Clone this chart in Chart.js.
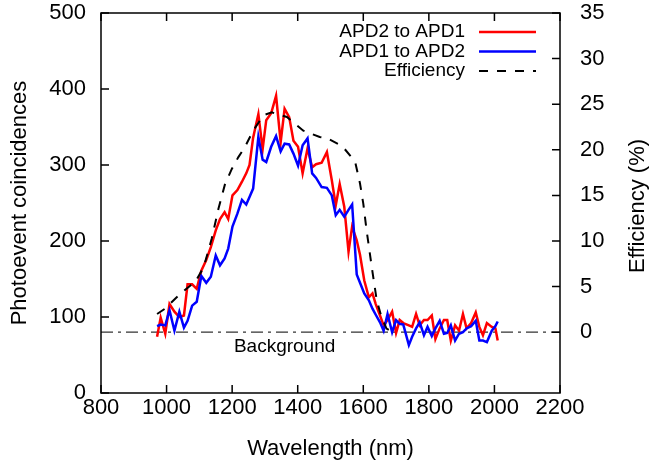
<!DOCTYPE html>
<html>
<head>
<meta charset="utf-8">
<script src="https://cdn.jsdelivr.net/npm/chart.js@4.4.0/dist/chart.umd.min.js"></script>
<style>
  html, body { margin: 0; padding: 0; background: #fff; }
</style>
</head>
<body>
<canvas id="chart_photoevents" width="652" height="466"></canvas>
<script>
// wavelength (nm) of each scan step, shared by both coincidence curves
var wavelengths = [971, 982, 996, 1009, 1024, 1039, 1053, 1064, 1078, 1092,
  1106, 1121, 1135, 1150, 1163, 1177, 1188, 1201, 1216, 1230,
  1243, 1253, 1264, 1280, 1293, 1304, 1319, 1334, 1348, 1360,
  1374, 1387, 1401, 1415, 1430, 1444, 1456, 1473, 1489, 1504,
  1516, 1528, 1542, 1555, 1566, 1580, 1590, 1603, 1617, 1628,
  1638, 1651, 1662, 1674, 1688, 1700, 1711, 1722, 1739, 1749,
  1761, 1772, 1785, 1796, 1809, 1820, 1833, 1846, 1856, 1867,
  1880, 1892, 1904, 1915, 1929, 1943, 1954, 1965, 1977, 1992,
  2003, 2010];

var apd2ToApd1 = [74, 99, 78, 117, 107, 100, 102, 143, 143, 137,
  161, 175, 192, 214, 229, 238, 229, 260, 267, 278,
  289, 300, 336, 367, 321, 359, 368, 391, 330, 374,
  363, 332, 324, 289, 322, 297, 301, 303, 317, 280,
  247, 275, 245, 186, 219, 201, 182, 148, 126, 131,
  117, 102, 89, 96, 107, 79, 96, 92, 89, 87,
  104, 89, 96, 96, 102, 71, 85, 96, 96, 69,
  89, 82, 104, 85, 92, 106, 87, 76, 92, 87,
  85, 69];

var apd1ToApd2 = [88, 90, 89, 109, 82, 107, 86, 95, 115, 120,
  154, 145, 153, 181, 168, 177, 190, 219, 236, 254,
  248, 258, 269, 337, 307, 304, 324, 338, 318, 328,
  327, 315, 299, 326, 335, 289, 283, 271, 270, 260,
  234, 241, 232, 241, 248, 156, 145, 131, 122, 111,
  103, 93, 82, 104, 80, 96, 91, 90, 63, 74,
  85, 93, 76, 87, 75, 85, 95, 78, 79, 89,
  69, 78, 80, 85, 88, 95, 69, 69, 67, 82,
  88, 94];

// efficiency curve (%), right axis
var effWavelengths = [971, 996, 1027, 1042, 1072, 1087, 1113, 1138, 1158, 1178,
  1199, 1219, 1239, 1264, 1296, 1321, 1367, 1417, 1467, 1488,
  1536, 1575, 1590, 1600, 1610, 1626, 1641, 1656, 1671, 1686];
var efficiency = [2.0, 2.6, 3.7, 4.2, 5.1, 5.5, 7.1, 10.3, 13.5, 16.2,
  17.9, 19.2, 20.3, 22.1, 23.8, 24.1, 23.6, 22.1, 21.4, 21.3,
  20.4, 18.7, 16.3, 14.1, 11.2, 7.1, 3.5, 1.6, 0.4, 0.1];

var background = 80;

var xTicks = [800, 1000, 1200, 1400, 1600, 1800, 2000, 2200];
var yTicks = [0, 100, 200, 300, 400, 500];
var y2Ticks = [0, 5, 10, 15, 20, 25, 30, 35];

// right axis: 0 % sits on the background level, 35 % at the top
var y2Min = -background * 35 / (500 - background);

var fontFamily = "'Liberation Sans', Arial, sans-serif";
Chart.defaults.font.family = fontFamily;
Chart.defaults.color = '#000';

function pairs(xs, ys) {
  return xs.map(function (x, i) { return { x: x, y: ys[i] }; });
}
function fixedTicks(list) {
  return function (scale) { scale.ticks = list.map(function (v) { return { value: v }; }); };
}
function plain(v) { return String(v); }
function fitTo(size) {
  return function (s) {
    if (s.isHorizontal()) { s.height = size; } else { s.width = size; }
    s.paddingTop = 0; s.paddingBottom = 0; s.paddingLeft = 0; s.paddingRight = 0;
  };
}

var framePlugin = {
  id: 'gnuplotFrame',
  afterDraw: function (chart) {
    var ctx = chart.ctx;
    var a = chart.chartArea;
    var sx = chart.scales.x, sy = chart.scales.y, sy2 = chart.scales.y2;
    var tl = 8;
    ctx.save();
    ctx.strokeStyle = '#000';
    ctx.lineWidth = 1.5;
    ctx.setLineDash([]);
    ctx.strokeRect(a.left, a.top, a.right - a.left, a.bottom - a.top);
    ctx.beginPath();
    xTicks.forEach(function (v) {
      var p = sx.getPixelForValue(v);
      ctx.moveTo(p, a.bottom); ctx.lineTo(p, a.bottom - tl);
      ctx.moveTo(p, a.top); ctx.lineTo(p, a.top + tl);
    });
    yTicks.forEach(function (v) {
      var p = sy.getPixelForValue(v);
      ctx.moveTo(a.left, p); ctx.lineTo(a.left + tl, p);
    });
    y2Ticks.forEach(function (v) {
      var p = sy2.getPixelForValue(v);
      ctx.moveTo(a.right, p); ctx.lineTo(a.right - tl, p);
    });
    ctx.stroke();

    // background label
    ctx.fillStyle = '#000';
    ctx.font = '19px ' + fontFamily;
    ctx.textAlign = 'center';
    ctx.textBaseline = 'middle';
    ctx.fillText('Background', sx.getPixelForValue(1360), sy.getPixelForValue(background) + 15);

    // right axis title, reading bottom to top
    ctx.save();
    ctx.translate(638, (a.top + a.bottom) / 2 + 3);
    ctx.rotate(-Math.PI / 2);
    ctx.font = '22px ' + fontFamily;
    ctx.fillText('Efficiency (%)', 0, 0);
    ctx.restore();

    // key, top right inside the frame
    var order = [2, 1, 0];
    ctx.font = '19px ' + fontFamily;
    ctx.textAlign = 'right';
    order.forEach(function (di, row) {
      var ds = chart.data.datasets[di];
      var y = 32 + row * 19.5;
      ctx.fillStyle = '#000';
      ctx.fillText(ds.label, 465, y);
      ctx.beginPath();
      ctx.strokeStyle = ds.borderColor;
      ctx.lineWidth = ds.borderWidth;
      ctx.setLineDash(ds.borderDash || []);
      ctx.moveTo(479, y); ctx.lineTo(536, y);
      ctx.stroke();
    });
    ctx.restore();
  }
};

var chart_photoevents = new Chart(document.getElementById('chart_photoevents'), {
  type: 'line',
  data: {
    datasets: [
      {
        label: 'Efficiency',
        data: pairs(effWavelengths, efficiency),
        yAxisID: 'y2',
        borderColor: '#000000',
        borderWidth: 2,
        borderDash: [9, 9],
        pointRadius: 0,
        fill: false
      },
      {
        label: 'APD1 to APD2',
        data: pairs(wavelengths, apd1ToApd2),
        yAxisID: 'y',
        borderColor: '#0000ff',
        borderWidth: 2.5,
        pointRadius: 0,
        fill: false
      },
      {
        label: 'APD2 to APD1',
        data: pairs(wavelengths, apd2ToApd1),
        yAxisID: 'y',
        borderColor: '#ff0000',
        borderWidth: 2.5,
        pointRadius: 0,
        fill: false
      },
      {
        label: 'Background',
        data: [{ x: 800, y: background }, { x: 2200, y: background }],
        yAxisID: 'y',
        borderColor: '#333333',
        borderWidth: 1.2,
        borderDash: [12, 5, 3, 5],
        pointRadius: 0,
        fill: false
      }
    ]
  },
  options: {
    responsive: false,
    animation: false,
    layout: { padding: { top: 13, left: 0, right: 0, bottom: 0 } },
    plugins: {
      legend: { display: false },
      tooltip: { enabled: false }
    },
    scales: {
      x: {
        type: 'linear',
        min: 800,
        max: 2200,
        afterBuildTicks: fixedTicks(xTicks),
        afterFit: fitTo(73),
        grid: { display: false, drawTicks: false },
        border: { display: false },
        ticks: { padding: 2, font: { size: 22 }, color: '#000', maxRotation: 0, autoSkip: false, callback: plain },
        title: { display: true, text: 'Wavelength (nm)', font: { size: 22 }, color: '#000', padding: { top: 0, bottom: 4 } }
      },
      y: {
        type: 'linear',
        position: 'left',
        min: 0,
        max: 500,
        afterBuildTicks: fixedTicks(yTicks),
        afterFit: fitTo(101),
        grid: { display: false, drawTicks: false },
        border: { display: false },
        ticks: { padding: 15, font: { size: 22 }, color: '#000', callback: plain },
        title: { display: true, text: 'Photoevent coincidences', font: { size: 22 }, color: '#000', padding: { top: 7, bottom: 0 } }
      },
      y2: {
        type: 'linear',
        position: 'right',
        min: y2Min,
        max: 35,
        afterBuildTicks: fixedTicks(y2Ticks),
        afterFit: fitTo(92),
        grid: { display: false, drawTicks: false },
        border: { display: false },
        ticks: { padding: 20, font: { size: 22 }, color: '#000', callback: plain }
      }
    }
  },
  plugins: [framePlugin]
});
</script>
</body>
</html>
